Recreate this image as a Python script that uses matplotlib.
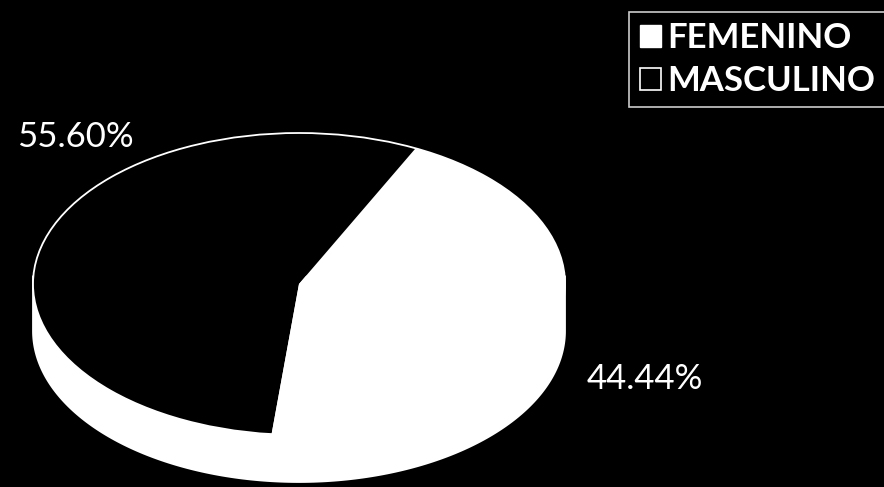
import matplotlib
matplotlib.use("Agg")
import numpy as np
import matplotlib.pyplot as plt
from matplotlib.patches import Ellipse, Polygon, Patch

# share of respondents by sex
labels = ["FEMENINO", "MASCULINO"]
values = [55.60, 44.44]
pct_text = ["55.60%", "44.44%"]
colors = ["black", "white"]

W, H = 884, 487
plt.rcParams["font.family"] = ["Lato", "DejaVu Sans"]

fig = plt.figure(figsize=(W / 100, H / 100), dpi=100, facecolor="black")

# tilted pie: an axes whose box is the top ellipse, stretched flat
cx, cy = 299, 203          # centre in pixels (y up)
rx, ry = 266, 151          # ellipse radii in pixels
depth = 47                 # thickness of the disc in pixels
ax = fig.add_axes([(cx - rx) / W, (cy - ry) / H, 2 * rx / W, 2 * ry / H])
ax.set_facecolor("black")

wedges, _ = ax.pie(values, colors=colors, startangle=64, counterclock=True,
                   radius=1, wedgeprops=dict(linewidth=0))
for w in wedges:
    w.set_zorder(3)
ax.set_aspect("auto")
ax.set_xlim(-1, 1)
ax.set_ylim(-1, 1)
ax.axis("off")

# white side wall of the disc: front half of the rim pushed down by the depth
d = depth / ry
t = np.linspace(0, -np.pi, 200)
wall = np.vstack([[1, 0.05], np.column_stack([np.cos(t), np.sin(t) - d]),
                  [-1, 0.05]])
ax.add_patch(Polygon(wall, closed=True, facecolor="white", edgecolor="white",
                     linewidth=1.3, zorder=1, clip_on=False, snap=False))
# rim of the top face
ax.add_patch(Ellipse((0, 0), 2, 2, facecolor="none", edgecolor="white",
                     linewidth=1.3, zorder=4, clip_on=False, snap=False))

# percentage labels
fig.text(75 / W, 1 - 137 / H, pct_text[0], color="white", fontsize=25,
         ha="center", va="center")
fig.text(645 / W, 1 - 379 / H, pct_text[1], color="white", fontsize=25,
         ha="center", va="center")

# legend (white filled / hollow squares)
handles = [Patch(facecolor="white", edgecolor="white"),
           Patch(facecolor="black", edgecolor="white", linewidth=1.2)]
leg = fig.legend(handles, labels, loc="upper right",
                 bbox_to_anchor=(886 / W, 1 - 12 / H), borderaxespad=0,
                 frameon=True, fancybox=False, facecolor="black",
                 edgecolor="white", fontsize=25, handlelength=0.6,
                 handleheight=0.6, handletextpad=0.2, labelspacing=0.3,
                 borderpad=0.3)
leg.get_frame().set_linewidth(1.2)
for txt in leg.get_texts():
    txt.set_color("white")
    txt.set_fontweight("bold")

fig.savefig("out.png", dpi=100, facecolor="black")
